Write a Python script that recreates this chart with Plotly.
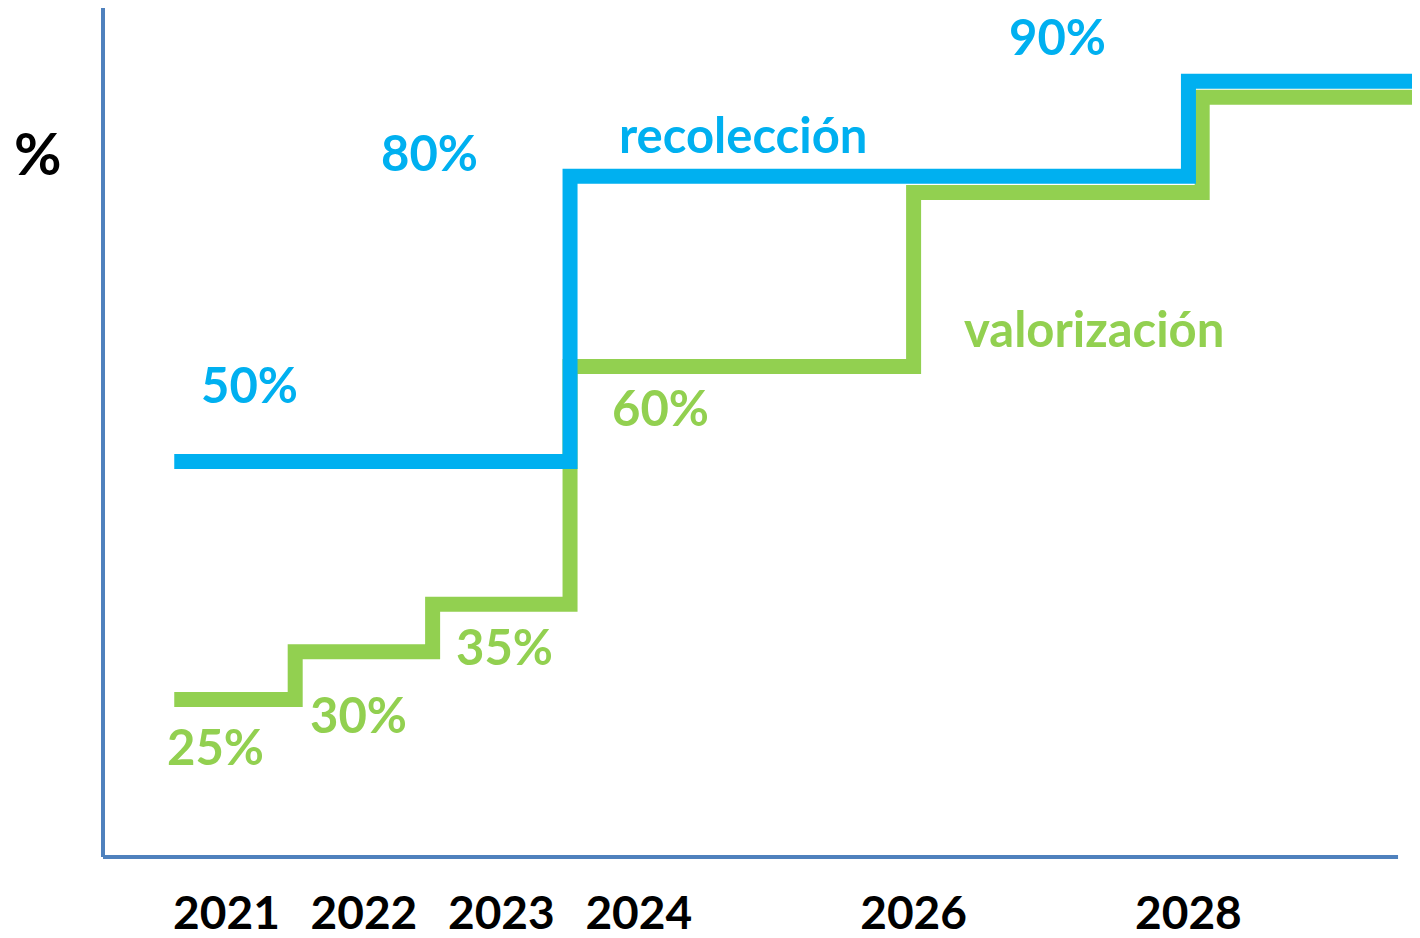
import plotly.graph_objects as go

# ---- data ----
years = [2021, 2022, 2023, 2024, 2026, 2028]
year_labels = ["2021", "2022", "2023", "2024", "2026", "2028"]

# recolección (blue) step line: x = change points, y = level from that point on
reco_x = [2020.62, 2023.5, 2028.0, 2029.7]
reco_y = [50, 80, 90, 90]

# valorización (green) step line
valo_x = [2020.62, 2021.5, 2022.5, 2023.5, 2026.0, 2028.1, 2029.7]
valo_y = [25, 30, 35, 60, 78.3, 88.3, 88.3]

# text labels (text, x in years, y in %)
blue_labels = [("50%", 2021.17, 58.2), ("80%", 2022.48, 82.5),
               ("90%", 2027.05, 94.7), ("recolección", 2024.76, 84.4)]
green_labels = [("25%", 2020.92, 20.1), ("30%", 2021.96, 23.5),
                ("35%", 2023.02, 30.6), ("60%", 2024.16, 55.7),
                ("valorización", 2027.31, 64.0)]

BLUE = "#00B0F0"
GREEN = "#92D050"
AXIS = "#4F81BD"
FONT = "Lato"

fig = go.Figure()
fig.add_trace(go.Scatter(x=valo_x, y=valo_y, mode="lines", line_shape="hv",
                         line=dict(color=GREEN, width=15), name="valorización",
                         hoverinfo="skip"))
fig.add_trace(go.Scatter(x=reco_x, y=reco_y, mode="lines", line_shape="hv",
                         line=dict(color=BLUE, width=15), name="recolección",
                         hoverinfo="skip"))

annotations = []
for t, x, y in blue_labels:
    annotations.append(dict(text=t, x=x, y=y, xref="x", yref="y", showarrow=False,
                            font=dict(family=FONT, size=49, color=BLUE, weight="bold"),
                            xanchor="center", yanchor="middle"))
for t, x, y in green_labels:
    annotations.append(dict(text=t, x=x, y=y, xref="x", yref="y", showarrow=False,
                            font=dict(family=FONT, size=49, color=GREEN, weight="bold"),
                            xanchor="center", yanchor="middle"))
annotations.append(dict(text="%", x=-0.051, y=0.83, xref="paper", yref="paper",
                        showarrow=False, xanchor="center", yanchor="middle",
                        font=dict(family=FONT, size=58, color="black", weight="bold")))

# page body has an 8px margin, so the figure is 8px smaller than the window
fig.update_layout(
    width=1412, height=930,
    margin=dict(l=97, r=0, t=0, b=81, autoexpand=False),
    paper_bgcolor="white", plot_bgcolor="white",
    showlegend=False,
    annotations=annotations,
    shapes=[dict(type="line", xref="paper", yref="paper", x0=-0.0015, x1=0.9833,
                 y0=0, y1=0, line=dict(color=AXIS, width=4))],
    xaxis=dict(range=[2020.116, 2029.685], showgrid=False, zeroline=False,
               showline=False, ticks="", tickmode="array", tickvals=years,
               ticktext=year_labels, ticklabelstandoff=25, automargin=False,
               tickfont=dict(family=FONT, size=46, color="black", weight="bold")),
    yaxis=dict(range=[8.43, 97.69], showgrid=False, zeroline=False,
               showline=True, linecolor=AXIS, linewidth=4, automargin=False,
               showticklabels=False, ticks=""),
)

fig.write_html("out.html")
